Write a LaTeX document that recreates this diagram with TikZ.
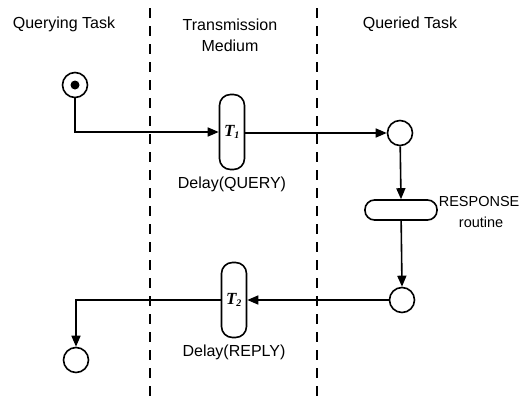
\documentclass[tikz,border=0pt]{standalone}
\usepackage{fontspec}
\setmainfont{Liberation Sans}
\newfontfamily\tserif{Liberation Serif}
\usetikzlibrary{arrows.meta,positioning}
\begin{document}
\begin{tikzpicture}[x=1pt,y=-1pt,
  line width=1.6pt,
  arr/.style={-{Triangle[length=11pt,width=9pt]}},
  place/.style={circle,draw,minimum size=25pt,inner sep=0pt},
  trans/.style={draw,rounded corners=11pt,minimum width=25pt,minimum height=75pt,inner sep=0pt},
  hbox/.style={draw,rounded corners=9.5pt,minimum width=72pt,minimum height=20pt,inner sep=0pt},
  lbl/.style={font=\fontsize{16}{18}\selectfont,inner sep=0pt},
  tlbl/.style={font=\fontsize{17}{18}\selectfont\tserif\bfseries\itshape,inner sep=0pt},
  lane/.style={line width=1.4pt,dash pattern=on 10pt off 8pt}]
\useasboundingbox (0,0) rectangle (527,402);

% swimlane separators
\coordinate (l1t) at (150,8);
\coordinate (l1b) at (150,402);
\coordinate (l2t) at (317,8);
\coordinate (l2b) at (317,402);
\draw[lane] (l1t) -- (l1b);
\draw[lane] (l2t) -- (l2b);

% lane titles
\node[lbl] (h1) at (64,24) {Querying Task};
\node[lbl,align=center] (h2) at (230,35) {Transmission\\[3pt]Medium};
\node[lbl] (h3) at (410,24) {Queried Task};

% places
\node[place] (p0) at (75,85) {};
\fill (p0.center) circle (4.5pt);
\node[place] (p1) at (400,133) {};
\node[place] (p2) at (402,300) {};
\node[place] (p3) at (76,360) {};

% transitions
\node[trans] (t1) at (232,132) {};
\node[tlbl] (t1l) at (t1.center) {T\textsubscript{\fontsize{10}{10}\selectfont 1}};
\node[lbl,below=6pt of t1.south] (t1d) {Delay(QUERY)};
\node[trans] (t2) at (234,300) {};
\node[tlbl] (t2l) at (t2.center) {T\textsubscript{\fontsize{10}{10}\selectfont 2}};
\node[lbl,below=6pt of t2.south] (t2d) {Delay(REPLY)};
\node[hbox] (r) at (401,210) {};
\node[lbl,font=\fontsize{14.5}{17}\selectfont,align=center,anchor=north west] (rl) at (438,196) {RESPONSE\\[4pt]\hspace*{4pt}routine};

% arcs
\coordinate (c1) at (p0 |- t1);
\draw[arr] (p0) -- (c1) -- (t1.west);
\draw[arr] (t1.east |- p1) -- (p1.west);
\draw[arr] (p1) -- (r.north);
\draw[arr] (r) -- (p2.north);
\draw[arr] (p2.west) -- (t2.east |- p2);
\coordinate (c2) at (p3 |- t2);
\draw[arr] (t2.west |- p2) -- (c2) -- (p3.north);
\end{tikzpicture}
\end{document}
